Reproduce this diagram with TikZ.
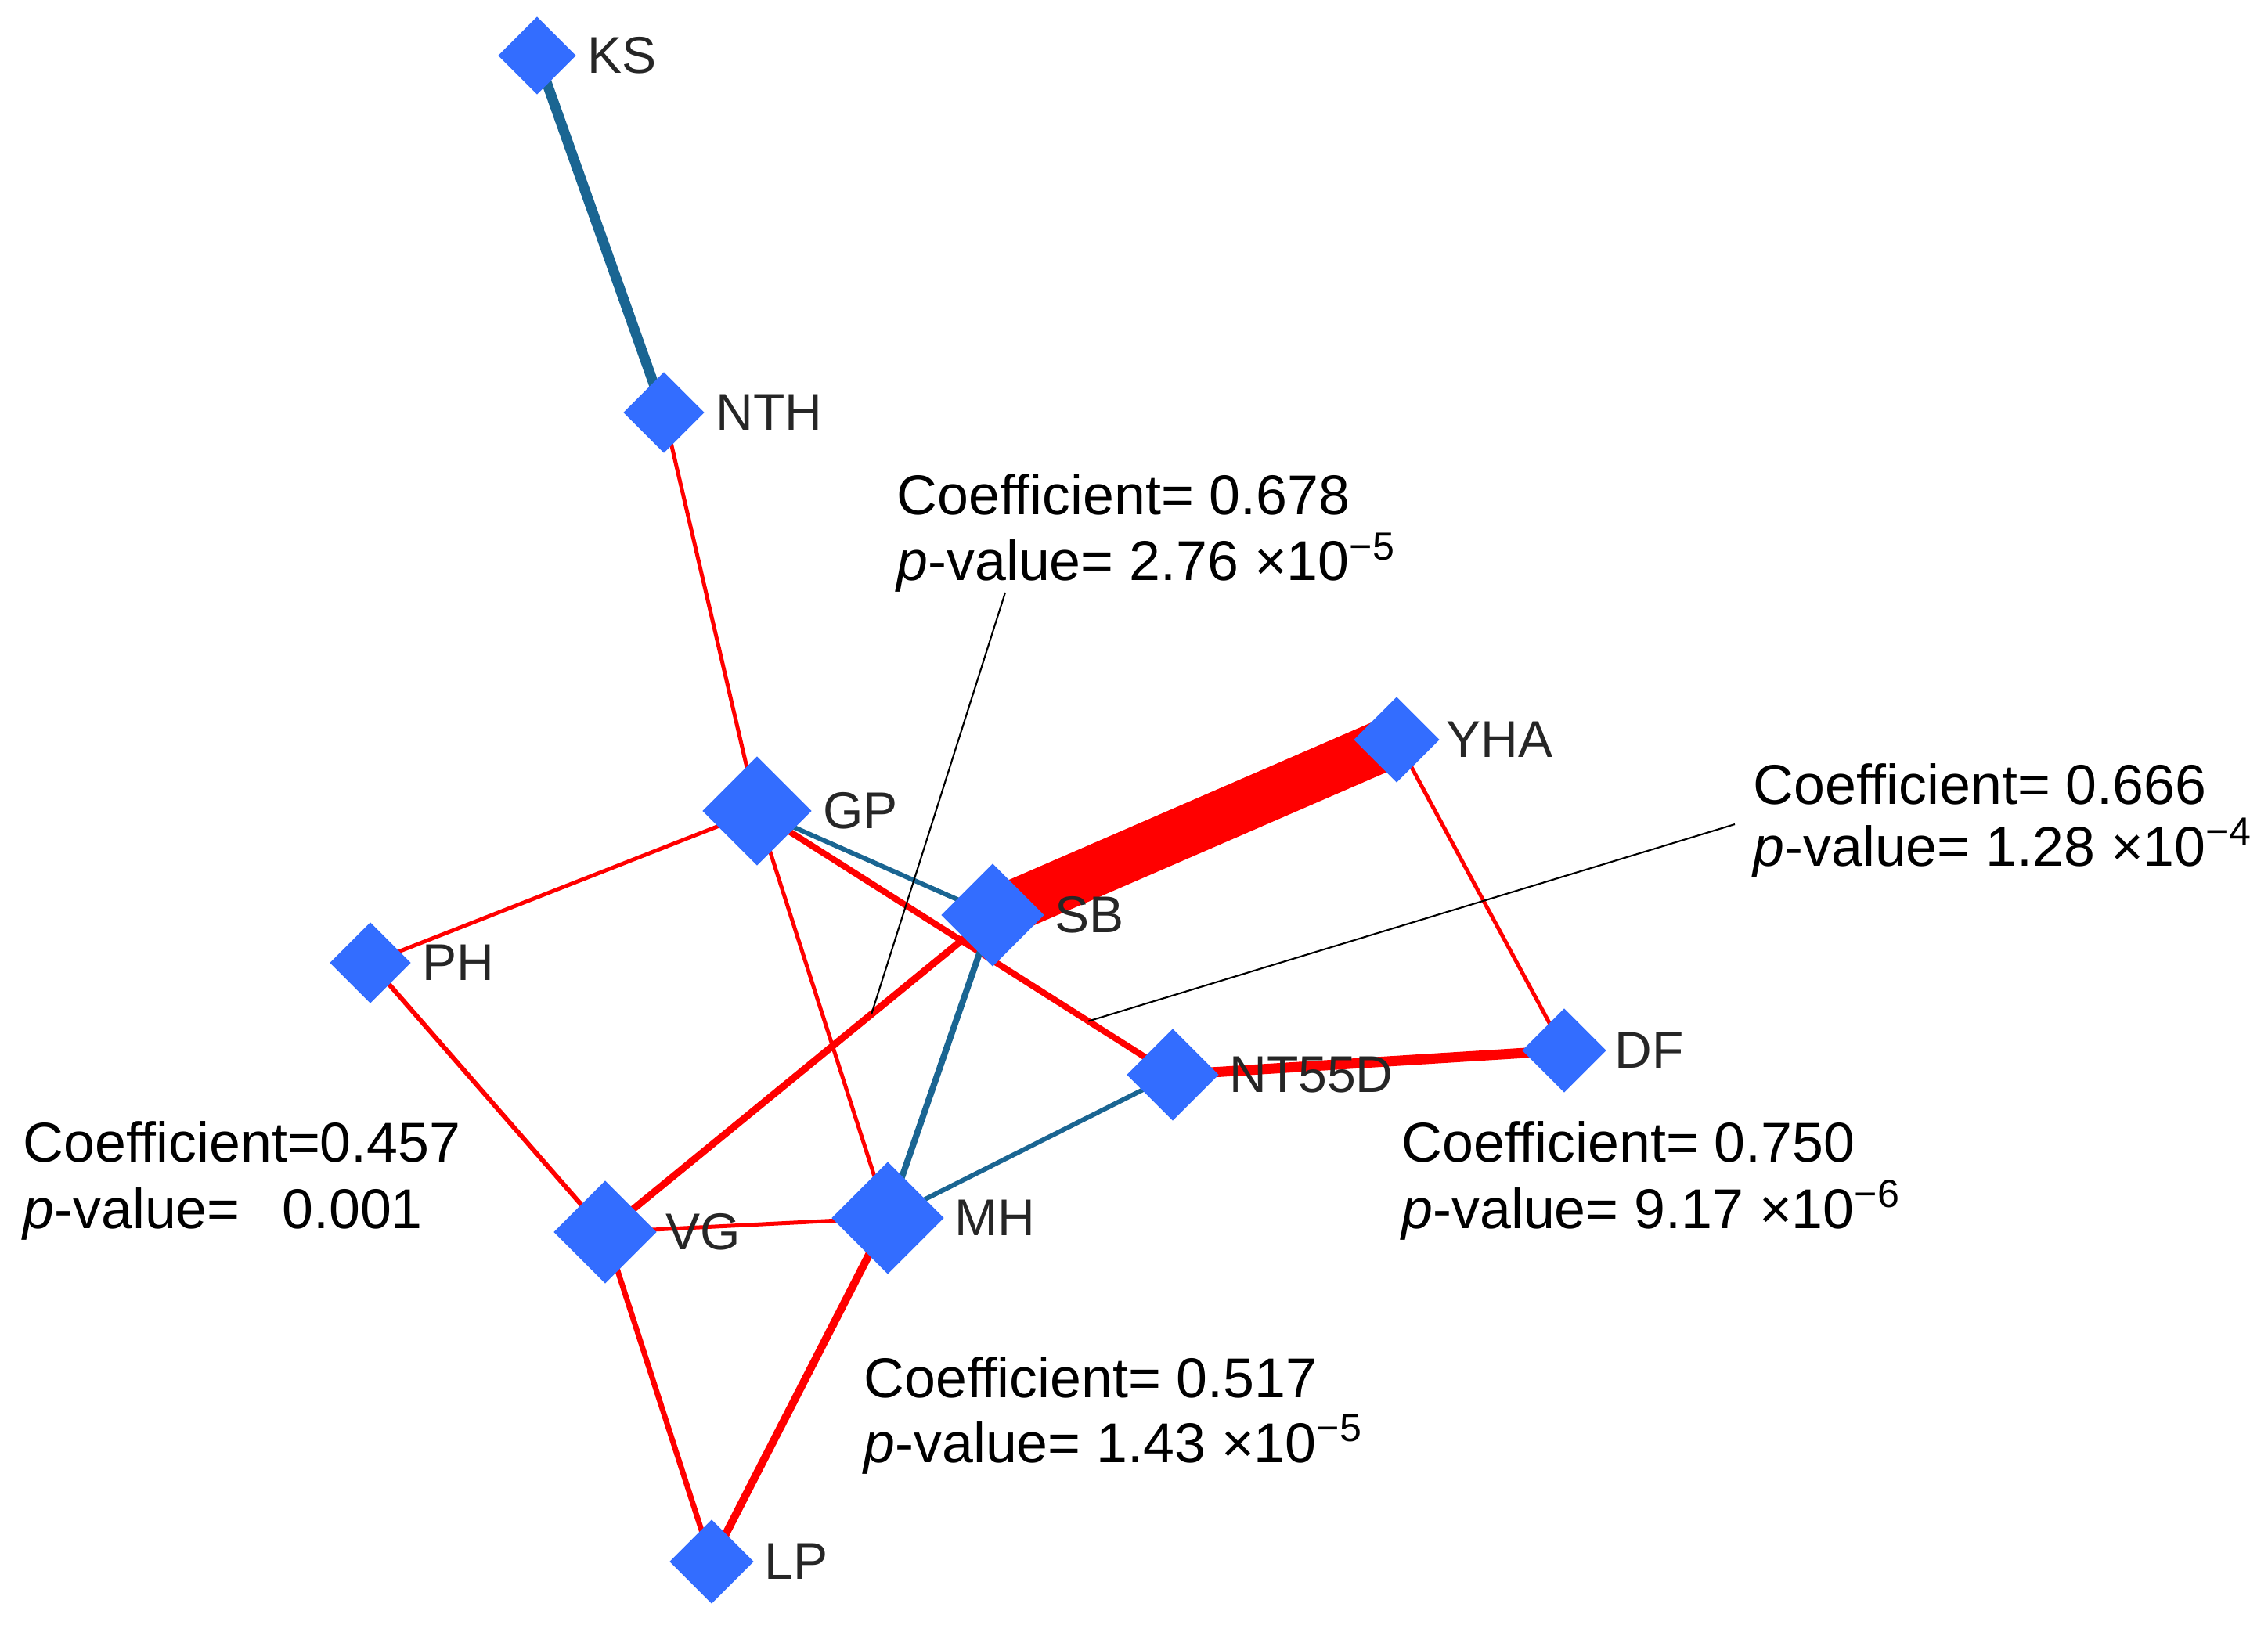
\documentclass[tikz,border=0pt]{standalone}
\usepackage{fontspec}
\setmainfont{Liberation Sans}
\usetikzlibrary{shapes.geometric,backgrounds,calc}
\definecolor{nodeblue}{HTML}{336DFF}
\definecolor{edgeteal}{HTML}{1A6592}
\definecolor{edgered}{HTML}{FF0000}
\begin{document}
\begin{tikzpicture}[
  gnode/.style={diamond, aspect=1, fill=nodeblue, draw=none, inner sep=0pt, minimum size=#1},
  lab/.style={inner sep=0pt, anchor=west, font=\fontsize{18.8}{22}\selectfont, text=black!85},
  ct/.style={inner sep=0pt, anchor=base west, font=\fontsize{20.4}{24}\selectfont},
  redE/.style={draw=edgered, line width=#1},
  tealE/.style={draw=edgeteal, line width=#1},
  callout/.style={draw=black, line width=0.6pt}
]
\useasboundingbox (0,0) rectangle (28.97,-20.76);

% nodes
\node[gnode=1.00cm] (KS)    at (6.86,-0.71) {};
\node[gnode=1.04cm] (NTH)   at (8.48,-5.27) {};
\node[gnode=1.40cm] (GP)    at (9.67,-10.36) {};
\node[gnode=1.32cm] (SB)    at (12.68,-11.69) {};
\node[gnode=1.10cm] (YHA)   at (17.84,-9.45) {};
\node[gnode=1.04cm] (PH)    at (4.73,-12.30) {};
\node[gnode=1.18cm] (NT55D) at (14.98,-13.73) {};
\node[gnode=1.08cm] (DF)    at (19.98,-13.42) {};
\node[gnode=1.32cm] (VG)    at (7.73,-15.74) {};
\node[gnode=1.44cm] (MH)    at (11.34,-15.56) {};
\node[gnode=1.08cm] (LP)    at (9.09,-19.95) {};

% node labels
\node[lab] (KSl)    at ([xshift=0.13cm]KS.east)    {KS};
\node[lab] (NTHl)   at ([xshift=0.13cm]NTH.east)   {NTH};
\node[lab] (GPl)    at ([xshift=0.13cm]GP.east)    {GP};
\node[lab] (SBl)    at ([xshift=0.12cm]SB.east)    {SB};
\node[lab] (YHAl)   at ([xshift=0.07cm]YHA.east)   {YHA};
\node[lab] (PHl)    at ([xshift=0.13cm]PH.east)    {PH};
\node[lab] (NT55Dl) at ([xshift=0.12cm]NT55D.east) {NT55D};
\node[lab] (DFl)    at ([xshift=0.09cm]DF.east)    {DF};
\node[lab] (VGl)    at ([xshift=0.10cm]VG.east)    {VG};
\node[lab] (MHl)    at ([xshift=0.12cm]MH.east)    {MH};
\node[lab] (LPl)    at ([xshift=0.12cm]LP.east)    {LP};

% edges
\begin{scope}[on background layer]
\draw[tealE=0.13cm] (KS.center) -- (NTH.center);
\draw[redE=0.05cm]  (NTH.center) -- (GP.center);
\draw[redE=0.05cm]  (GP.center) -- (PH.center);
\draw[tealE=0.06cm] (GP.center) -- (SB.center);
\draw[redE=0.08cm]  (GP.center) -- (NT55D.center);
\draw[redE=0.05cm]  (GP.center) -- (MH.center);
\draw[redE=0.66cm]  (SB.center) -- (YHA.center);
\draw[redE=0.09cm]  (SB.center) -- (VG.center);
\draw[tealE=0.08cm] (SB.center) -- (MH.center);
\draw[redE=0.05cm]  (YHA.center) -- (DF.center);
\draw[redE=0.13cm]  (NT55D.center) -- (DF.center);
\draw[tealE=0.06cm] (NT55D.center) -- (MH.center);
\draw[redE=0.06cm]  (PH.center) -- (VG.center);
\draw[redE=0.05cm]  (VG.center) -- (MH.center);
\draw[redE=0.07cm]  (VG.center) -- (LP.center);
\draw[redE=0.10cm]  (MH.center) -- (LP.center);
\end{scope}

% callout texts
\node[ct] (a1) at (11.45,-6.58) {Coefficient= 0.678};
\node[ct] (a2) at (11.45,-7.42) {\textit{p}-value= 2.76 ×10\textsuperscript{−5}};
\node[ct] (b1) at (22.39,-10.27) {Coefficient= 0.666};
\node[ct] (b2) at (22.39,-11.06) {\textit{p}-value= 1.28 ×10\textsuperscript{−4}};
\node[ct] (c1) at (0.29,-14.84) {Coefficient=0.457};
\node[ct] (c2) at (0.29,-15.69) {\textit{p}-value=\hspace{0.75em}0.001};
\node[ct] (d1) at (17.90,-14.84) {Coefficient= 0.750};
\node[ct] (d2) at (17.90,-15.69) {\textit{p}-value= 9.17 ×10\textsuperscript{−6}};
\node[ct] (e1) at (11.03,-17.85) {Coefficient= 0.517};
\node[ct] (e2) at (11.03,-18.68) {\textit{p}-value= 1.43 ×10\textsuperscript{−5}};

% callout leader lines
\coordinate (sa) at (12.84,-7.57);
\coordinate (ea) at ($(SB.center)!0.313!(VG.center)$);
\coordinate (sb) at (22.16,-10.53);
\coordinate (eb) at ($(GP.center)!0.797!(NT55D.center)$);
\draw[callout] (sa) -- (ea);
\draw[callout] (sb) -- (eb);
\end{tikzpicture}
\end{document}
